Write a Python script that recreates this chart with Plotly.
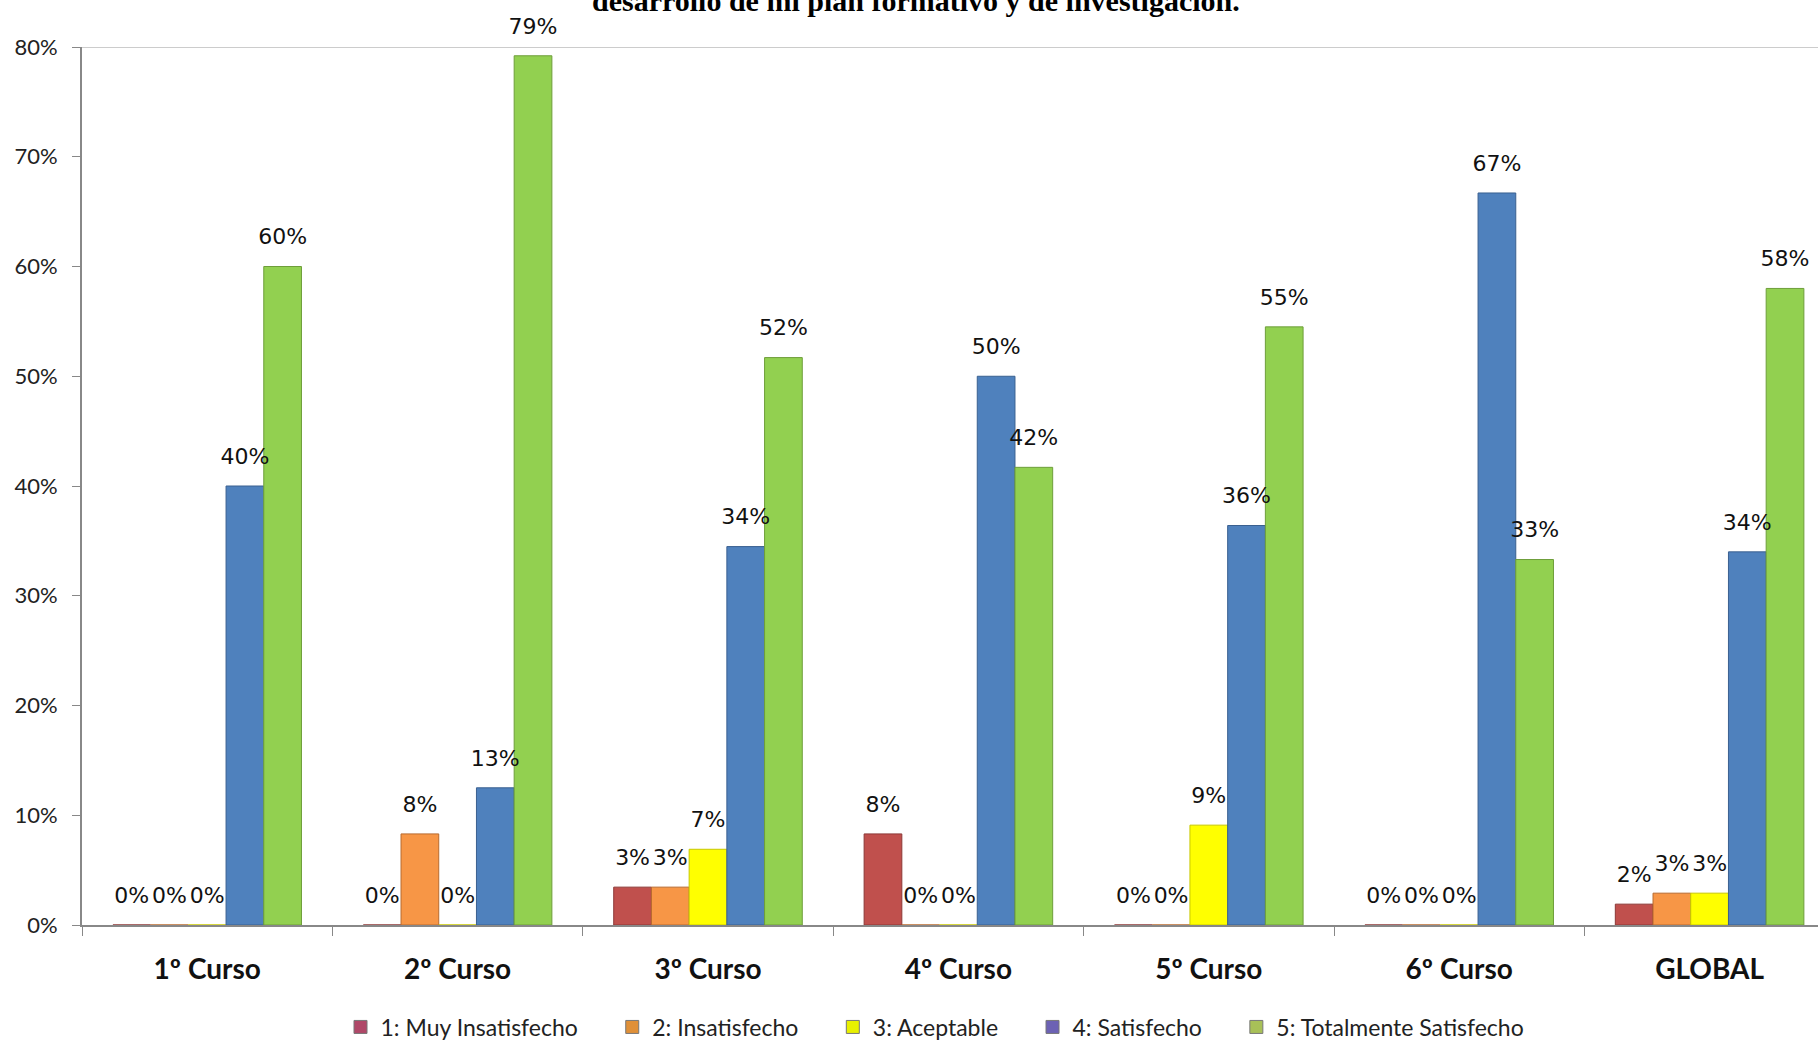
import plotly.graph_objects as go

categories = ["1º Curso", "2º Curso", "3º Curso", "4º Curso", "5º Curso", "6º Curso", "GLOBAL"]
series_names = ["1: Muy Insatisfecho", "2: Insatisfecho", "3: Aceptable", "4: Satisfecho", "5: Totalmente Satisfecho"]
muy_insatisfecho = [0.0, 0.0, 0.0345, 0.083, 0.0, 0.0, 0.019]
insatisfecho = [0.0, 0.083, 0.0345, 0.0, 0.0, 0.0, 0.029]
aceptable = [0.0, 0.0, 0.069, 0.0, 0.091, 0.0, 0.029]
satisfecho = [0.40, 0.125, 0.3448, 0.50, 0.364, 0.667, 0.340]
totalmente = [0.60, 0.792, 0.517, 0.417, 0.545, 0.333, 0.580]
y_ticks = [0, 0.1, 0.2, 0.3, 0.4, 0.5, 0.6, 0.7, 0.8]
title_text = "desarrollo de mi plan formativo y de investigación."

values = [muy_insatisfecho, insatisfecho, aceptable, satisfecho, totalmente]
bar_colors = ["#C0504D", "#F79646", "#FFFF00", "#4F81BD", "#92D050"]
bar_lines = ["#8C3836", "#B86A2E", "#C8C800", "#3A6090", "#6E9E3A"]
legend_colors = ["#B04868", "#E09038", "#E8F000", "#6C62B4", "#A8C058"]

W, H = 1818, 1044
L, T, B = 82, 47, 119
plot_w = W - L
cat_w = 250.4
GAP = 0.247
PAD = "\u00a0" * 5

fig = go.Figure()
for name, vals, c, lc in zip(series_names, values, bar_colors, bar_lines):
    fig.add_trace(go.Bar(
        x=categories, y=vals, name=name,
        marker=dict(color=c, line=dict(color=lc, width=1)),
        showlegend=False, hoverinfo="skip",
    ))

# data labels, grouped like the bars
for name, vals in zip(series_names, values):
    fig.add_trace(go.Scatter(
        x=categories, y=vals, name=name, mode="markers+text",
        marker=dict(size=25, color="rgba(0,0,0,0)"),
        texttemplate="%{y:.0%}", textposition="top center",
        textfont=dict(family="DejaVu Sans", size=22, color="#111111"),
        cliponaxis=False, showlegend=False, hoverinfo="skip",
    ))

# legend entries (Excel legend swatch colours)
for i, (name, c) in enumerate(zip(series_names, legend_colors)):
    fig.add_trace(go.Scatter(
        x=[None], y=[None], mode="markers",
        name=name + (PAD if i < len(series_names) - 1 else ""),
        xaxis="x2", yaxis="y2",
        marker=dict(symbol="square", size=13, color=c, line=dict(color="#777777", width=1)),
        showlegend=True,
    ))

fig.add_shape(type="line", xref="paper", yref="y", x0=0, x1=1, y0=0.8, y1=0.8,
              line=dict(color="#BBBBBB", width=1.5))

fig.add_annotation(text="<b>" + title_text + "</b>", xref="paper", yref="paper",
                   x=(916 - L) / plot_w, y=1.048, yshift=4, xanchor="center", yanchor="middle",
                   showarrow=False,
                   font=dict(family="Liberation Serif, Times New Roman", size=30, color="#000000"))

fig.update_layout(
    width=W, height=H,
    margin=dict(l=L, r=0, t=T, b=B, pad=0, autoexpand=False),
    plot_bgcolor="white", paper_bgcolor="white",
    barmode="group", bargap=GAP, bargroupgap=0,
    scattermode="group", scattergap=GAP,
    legend=dict(orientation="h", x=(935 - L) / plot_w, xanchor="center",
                y=(925 - 1027) / (H - T - B), yanchor="middle",
                font=dict(family="Lato", size=23, color="#222222"),
                itemwidth=30, tracegroupgap=0),
    xaxis=dict(
        type="category", range=[-0.5, -0.5 + plot_w / cat_w],
        tickson="boundaries", ticks="outside", ticklen=9, tickcolor="#888888",
        showline=True, linecolor="#888888", linewidth=2,
        showgrid=False, automargin=False,
        tickfont=dict(family="Lato", size=28, color="#111111", weight="bold"),
        ticklabelstandoff=18,
    ),
    yaxis=dict(
        range=[0, 0.8], tickvals=y_ticks, tickformat=".0%",
        ticks="outside", ticklen=8, tickcolor="#888888",
        showline=True, linecolor="#888888", linewidth=2,
        showgrid=False, zeroline=False, automargin=False,
        tickfont=dict(family="Lato", size=22, color="#222222"),
        ticklabelstandoff=10,
    ),
    xaxis2=dict(visible=False, overlaying="x", range=[0, 1]),
    yaxis2=dict(visible=False, overlaying="y", range=[0, 1]),
)

fig.write_html("out.html", config={"displayModeBar": False},
               post_script="document.body.style.margin='0';document.body.style.overflow='hidden';")
